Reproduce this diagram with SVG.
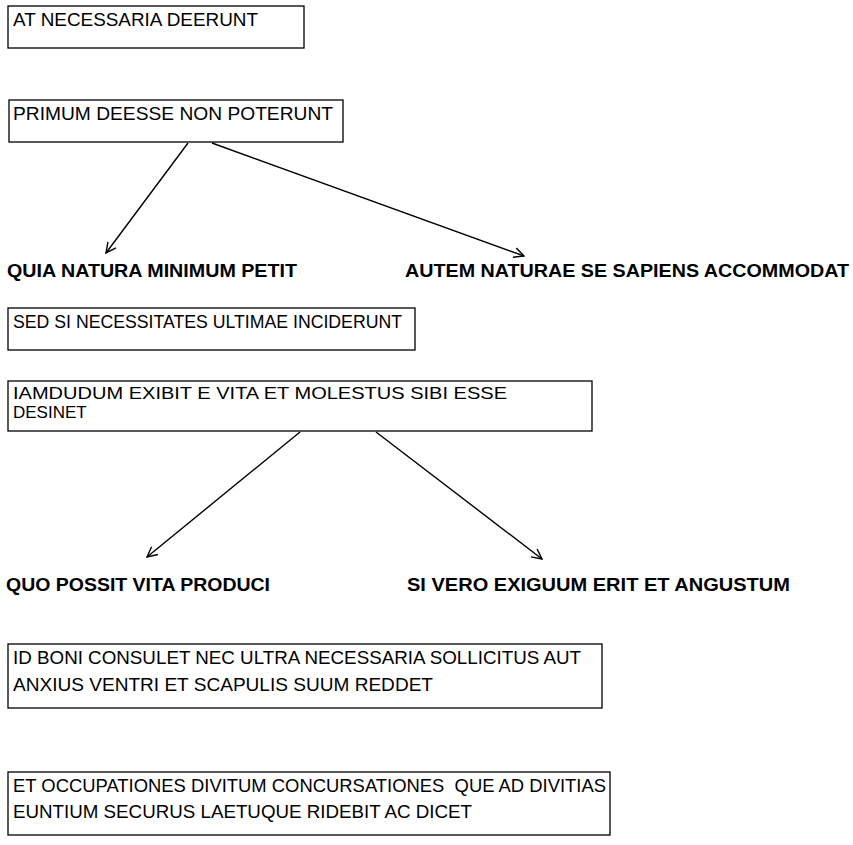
<svg xmlns="http://www.w3.org/2000/svg" width="853" height="845" viewBox="0 0 853 845">
<defs>
<style>
.box{fill:#fff;stroke:#000;stroke-width:1.3}
.t{font-family:"Liberation Sans",Arial,sans-serif;font-size:18px;fill:#000}
.s{font-size:17px}
.b{font-family:"Liberation Sans",Arial,sans-serif;font-size:19px;font-weight:bold;fill:#000}
.c{stroke:#000;stroke-width:1.4;fill:none}
</style>
<marker id="ah" viewBox="0 0 12 12" refX="11" refY="6" markerWidth="12" markerHeight="12" markerUnits="userSpaceOnUse" orient="auto">
<path d="M1,1 L11,6 L1,11" fill="none" stroke="#000" stroke-width="1.4"/>
</marker>
</defs>
<rect width="853" height="845" fill="#fff"/>
<g id="n1"><rect class="box" x="8" y="6" width="296" height="42"/><text class="t" x="13" y="26" textLength="245" lengthAdjust="spacingAndGlyphs">AT NECESSARIA DEERUNT</text></g>
<g id="n2"><rect class="box" x="9" y="100" width="334" height="42"/><text class="t" x="13" y="120" textLength="320" lengthAdjust="spacingAndGlyphs">PRIMUM DEESSE NON POTERUNT</text></g>
<g id="n3"><text class="b" x="7" y="277" textLength="290" lengthAdjust="spacingAndGlyphs">QUIA NATURA MINIMUM PETIT</text></g>
<g id="n4"><text class="b" x="405" y="277" textLength="444" lengthAdjust="spacingAndGlyphs">AUTEM NATURAE SE SAPIENS ACCOMMODAT</text></g>
<g id="n5"><rect class="box" x="8" y="308" width="407" height="42"/><text class="t" x="13" y="328" textLength="389" lengthAdjust="spacingAndGlyphs">SED SI NECESSITATES ULTIMAE INCIDERUNT</text></g>
<g id="n6"><rect class="box" x="8" y="381" width="584" height="50"/><text class="t s" x="13" y="399" textLength="494" lengthAdjust="spacingAndGlyphs">IAMDUDUM EXIBIT E VITA ET MOLESTUS SIBI ESSE</text><text class="t s" x="13" y="418">DESINET</text></g>
<g id="n7"><text class="b" x="6" y="591" textLength="264" lengthAdjust="spacingAndGlyphs">QUO POSSIT VITA PRODUCI</text></g>
<g id="n8"><text class="b" x="407" y="591" textLength="383" lengthAdjust="spacingAndGlyphs">SI VERO EXIGUUM ERIT ET ANGUSTUM</text></g>
<g id="n9"><rect class="box" x="8" y="644" width="594" height="64"/><text class="t" x="13" y="664" textLength="568" lengthAdjust="spacingAndGlyphs">ID BONI CONSULET NEC ULTRA NECESSARIA SOLLICITUS AUT</text><text class="t" x="13" y="691" textLength="420" lengthAdjust="spacingAndGlyphs">ANXIUS VENTRI ET SCAPULIS SUUM REDDET</text></g>
<g id="n10"><rect class="box" x="8" y="772" width="602" height="63"/><text class="t" x="13" y="792" textLength="593" lengthAdjust="spacingAndGlyphs" xml:space="preserve">ET OCCUPATIONES DIVITUM CONCURSATIONES  QUE AD DIVITIAS</text><text class="t" x="13" y="818" textLength="459" lengthAdjust="spacingAndGlyphs">EUNTIUM SECURUS LAETUQUE RIDEBIT AC DICET</text></g>
<g id="connectors">
<line class="c" x1="188" y1="143" x2="106" y2="253" marker-end="url(#ah)"/>
<line class="c" x1="212" y1="143" x2="524" y2="256" marker-end="url(#ah)"/>
<line class="c" x1="300" y1="432" x2="147" y2="557" marker-end="url(#ah)"/>
<line class="c" x1="376" y1="432" x2="542" y2="559" marker-end="url(#ah)"/>
</g>
</svg>
